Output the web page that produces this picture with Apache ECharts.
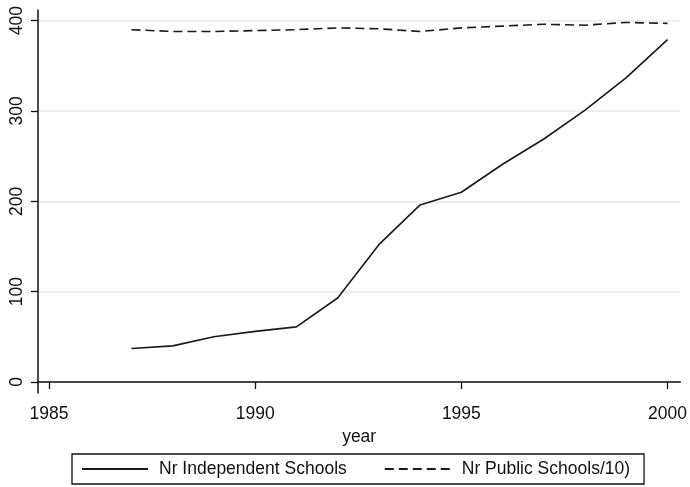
<!DOCTYPE html>
<html>
<head>
<meta charset="utf-8">
<script src="https://cdn.jsdelivr.net/npm/echarts@6/dist/echarts.min.js"></script>
<style>
html,body{margin:0;padding:0;background:#fff;}
#m1{width:690px;height:487px;}
</style>
</head>
<body>
<div id="m1"></div>
<script>
var years=[1987,1988,1989,1990,1991,1992,1993,1994,1995,1996,1997,1998,1999,2000];
var independent=[37,40,50,56,61,93,152,196,210,241,269,301,337,379];
var publicTen=[390,388,388,389,390,392,391,388,392,394,396,395,398,397];
var xTicks=[1985,1990,1995,2000];
var yTicks=[0,100,200,300,400];

function pairs(xs,ys){
    var out=[];
    for(var i=0;i<xs.length;i++){out.push([xs[i],ys[i]]);}
    return out;
}

var myChart=echarts.init(document.getElementById('m1'));
var font='Liberation Sans, Arial, sans-serif';
var option={
    animation:false,
    backgroundColor:'#fff',
    grid:{left:38,right:7,top:10,bottom:94,containLabel:false},
    xAxis:{
        type:'value',
        min:1984.734,
        max:2000.31,
        name:'year',
        nameLocation:'middle',
        nameGap:28,
        nameTextStyle:{color:'#111',fontSize:17.5,fontFamily:font},
        axisLine:{show:true,lineStyle:{color:'#111',width:1.5}},
        axisTick:{show:true,length:7,lineStyle:{color:'#111',width:1.3},customValues:xTicks},
        axisLabel:{color:'#111',fontSize:17.5,fontFamily:font,margin:12,customValues:xTicks,
            formatter:function(v){return String(v);}},
        splitLine:{show:false}
    },
    yAxis:{
        type:'value',
        min:-12.2,
        max:411.8,
        axisLine:{show:true,lineStyle:{color:'#111',width:1.5}},
        axisTick:{show:true,length:7,lineStyle:{color:'#111',width:1.3},customValues:yTicks},
        axisLabel:{color:'#111',fontSize:17.5,fontFamily:font,rotate:90,margin:12,customValues:yTicks},
        splitLine:{show:true,lineStyle:{color:'#e8e8e8',width:1.5}}
    },
    legend:{
        left:72,
        bottom:3,
        padding:[6,14,6,9],
        borderColor:'#111',
        borderWidth:1.3,
        itemWidth:66,
        itemHeight:12,
        itemGap:37,
        itemStyle:{opacity:0},
        textStyle:{color:'#111',fontSize:17.5,fontFamily:font,padding:[0,0,0,6]},
        data:['Nr Independent Schools','Nr Public Schools/10)']
    },
    series:[
        {
            name:'Nr Independent Schools',
            type:'line',
            data:pairs(years,independent),
            symbol:'none',
            lineStyle:{color:'#1a1a1a',width:1.6},
            itemStyle:{color:'#1a1a1a'}
        },
        {
            name:'Nr Public Schools/10)',
            type:'line',
            data:pairs(years,publicTen),
            symbol:'none',
            lineStyle:{color:'#1a1a1a',width:1.6,type:[9,5]},
            itemStyle:{color:'#1a1a1a'}
        }
    ]
};
myChart.setOption(option);
</script>
</body>
</html>
